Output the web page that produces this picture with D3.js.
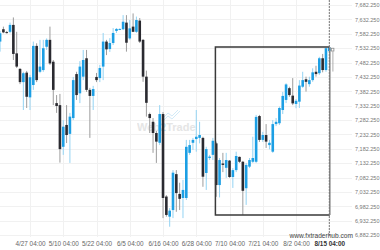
<!DOCTYPE html>
<html><head><meta charset="utf-8">
<script src="https://cdn.jsdelivr.net/npm/d3@7"></script>
<style>html,body{margin:0;padding:0;background:#fff;} svg{display:block;font-family:"Liberation Sans","DejaVu Sans",sans-serif;}</style>
</head><body><svg id="c" width="380" height="250"></svg>
<script>
// ---- data ----
const open = [7555,7598,7588,7589,7613,7514,7460,7414,7447,7361,7404,7540,7450,7456,7537,7561,7485,7341,7334,7189,
7265,7234,7289,7442,7375,7433,7497,7387,7366,7432,7428,7468,7555,7529,7550,7592,7597,7598,7621,7566,
7607,7589,7628,7561,7433,7303,7276,7237,7203,7303,7016,6946,6969,7094,7025,7011,7011,7168,7203,7216,
7220,7220,7098,7150,7161,7201,7056,7131,7116,7141,7084,7108,7154,7137,7045,7120,7137,7137,7296,7213,
7230,7195,7172,7268,7271,7317,7352,7393,7367,7338,7346,7398,7424,7407,7421,7450,7445,7497,7456,7522];
const high = [7592,7607,7592,7621,7639,7589,7463,7450,7453,7439,7555,7549,7561,7561,7566,7607,7491,7369,7373,7282,
7334,7307,7432,7450,7487,7526,7526,7394,7401,7446,7474,7585,7561,7567,7602,7602,7601,7647,7647,7630,
7653,7642,7637,7564,7454,7308,7289,7244,7334,7310,7021,6976,7108,7108,7064,7074,7213,7213,7220,7317,
7276,7224,7189,7161,7220,7207,7150,7168,7168,7143,7115,7172,7155,7140,7133,7150,7224,7300,7300,7241,
7268,7213,7282,7289,7329,7380,7410,7398,7428,7355,7421,7450,7433,7433,7462,7471,7502,7512,7534,7536];
const low = [7520,7584,7583,7584,7491,7463,7407,7317,7324,7317,7387,7414,7445,7450,7526,7474,7334,7307,7134,7161,
7202,7133,7282,7352,7341,7421,7380,7220,7317,7414,7414,7421,7508,7519,7543,7585,7595,7595,7520,7561,
7588,7585,7550,7415,7294,7237,7168,7133,7195,6941,6946,6911,6941,6963,6969,6941,7004,7161,7178,7172,
7201,7050,7039,7143,7143,7015,7013,7101,7081,7081,7046,7101,7133,6952,6987,7115,7133,7133,7206,7206,
7185,7180,7168,7261,7265,7303,7341,7363,7334,7323,7324,7394,7381,7398,7415,7433,7439,7448,7450,7519];
const close = [7584,7587,7586,7613,7512,7468,7414,7445,7363,7431,7540,7421,7468,7532,7561,7479,7387,7331,7181,7259,
7230,7294,7421,7369,7468,7491,7387,7366,7390,7421,7463,7555,7528,7550,7585,7599,7599,7624,7551,7601,
7589,7630,7555,7433,7342,7289,7237,7207,7303,7011,6952,6967,7099,7028,7008,7039,7189,7195,7213,7224,
7230,7085,7181,7155,7210,7056,7143,7126,7143,7084,7108,7157,7137,7036,7126,7143,7150,7293,7213,7230,
7207,7203,7268,7276,7324,7366,7406,7369,7340,7349,7402,7421,7415,7421,7448,7442,7497,7456,7532,7535];
const tickIndex = [9,19,29,39,49,59,69,79,89,99];
const tickLabels = ["4/27 04:00","5/10 04:00","5/22 04:00","6/5 04:00","6/16 04:00","6/28 04:00","7/10 04:00","7/21 04:00","8/2 04:00","8/15 04:00"];
const yTicks = d3.range(17).map(k => 6882.25 + 50*k);
const boxStart = 65, boxEnd = 99;

// ---- drawing ----
const svg = d3.select("#c");
const x = d3.scaleLinear().domain([0, 99]).range([0.07, 329.3]);
const y = d3.scaleLinear().domain([6882.25, 7682.25]).range([235, 5]);
const step = x(1) - x(0);
const bodyW = 2.6;
const plotBottom = 237;

// grid
svg.append("g").selectAll("line").data(yTicks).join("line")
  .attr("x1", 0).attr("x2", 352).attr("y1", d => Math.round(y(d)) + 0.5).attr("y2", d => Math.round(y(d)) + 0.5)
  .attr("stroke", "#f1f1f1").attr("stroke-width", 1);
svg.append("g").selectAll("line").data(tickIndex).join("line")
  .attr("x1", d => Math.round(x(d)) + 0.5).attr("x2", d => Math.round(x(d)) + 0.5)
  .attr("y1", 0).attr("y2", plotBottom)
  .attr("stroke", "#f1f1f1").attr("stroke-width", 1);

// watermark
const wm = svg.append("g").attr("opacity", 0.9);
const wt = wm.append("text").attr("x", 137).attr("y", 131).attr("font-size", 11).attr("font-weight", "bold").attr("fill", "#e3e3e3");
wt.append("tspan").text("Web");
wt.append("tspan").attr("fill", "#c4e5f6").text("2");
wt.append("tspan").text("Trade");
wm.append("path").attr("d", "M163,118 L168,113 L172,116 L178,110").attr("fill", "none").attr("stroke", "#cfe9f7").attr("stroke-width", 1);
wm.append("path").attr("d", "M163,121 L168,116 L172,119 L180,111").attr("fill", "none").attr("stroke", "#cfe9f7").attr("stroke-width", 1);

// candles
const idx = d3.range(open.length);
const isUp = i => close[i] >= open[i];
svg.append("g").selectAll("line").data(idx).join("line")
  .attr("x1", i => x(i)).attr("x2", i => x(i))
  .attr("y1", i => y(high[i])).attr("y2", i => y(low[i]))
  .attr("stroke", i => isUp(i) ? "#93d3f3" : "#9c9c9c").attr("stroke-width", 1);
svg.append("g").selectAll("rect").data(idx).join("rect")
  .attr("x", i => x(i) - bodyW / 2).attr("width", bodyW)
  .attr("y", i => y(Math.max(open[i], close[i])))
  .attr("height", i => Math.max(1, Math.abs(y(open[i]) - y(close[i]))))
  .attr("fill", i => isUp(i) ? "#1c9fe4" : "#2a2a30");

// box
const bh = d3.max(high.slice(boxStart, boxEnd + 1));
const bl = d3.min(low.slice(boxStart, boxEnd + 1));
const bx0 = x(boxStart) - step * 0.25, bx1 = x(boxEnd) + 0.5;
svg.append("path")
  .attr("d", `M${bx1},${y(bh)} L${bx0},${y(bh)} L${bx0},${y(bl)} L${bx1},${y(bl)}`)
  .attr("fill", "none").attr("stroke", "#3a3a3a").attr("stroke-width", 1.5);
svg.append("line").attr("x1", bx1).attr("x2", bx1).attr("y1", y(bh)).attr("y2", y(bl))
  .attr("stroke", "#8a8a8a").attr("stroke-width", 1.6);
// current time dashed line
svg.append("line").attr("x1", x(99)).attr("x2", x(99)).attr("y1", 0).attr("y2", plotBottom)
  .attr("stroke", "#777").attr("stroke-width", 1).attr("stroke-dasharray", "2,1");
// marker
svg.append("rect").attr("x", x(99) + 2).attr("y", y(high[99]) + 1.2).attr("width", 2.6).attr("height", 2.8)
  .attr("fill", "#fff").attr("stroke", "#888").attr("stroke-width", 0.8);
svg.append("line").attr("x1", x(99) + 3.6).attr("x2", x(99) + 3.6).attr("y1", y(high[99]) + 4.5).attr("y2", y(high[99]) + 24.5)
  .attr("stroke", "#999").attr("stroke-width", 0.8);

// axes
const yAxis = svg.append("g").attr("transform", "translate(355,0)")
  .call(d3.axisRight(y).tickValues(yTicks).tickFormat(d3.format(",.3f")).tickSize(0).tickPadding(0));
yAxis.select(".domain").remove();
yAxis.selectAll("text").attr("font-size", 5.5).attr("fill", "#777").attr("font-family", "Liberation Sans, DejaVu Sans, sans-serif");

const xAxis = svg.append("g").attr("transform", `translate(0,${plotBottom})`)
  .call(d3.axisBottom(x).tickValues(tickIndex).tickFormat((d, i) => tickLabels[i]).tickSize(0).tickPadding(4));
xAxis.select(".domain").remove();
xAxis.selectAll("text").attr("font-size", 6.4).attr("fill", "#666").attr("font-family", "Liberation Sans, DejaVu Sans, sans-serif");
xAxis.selectAll("text").filter((d, i) => i === tickIndex.length - 1).attr("font-weight", "bold").attr("fill", "#333");

// site credit
svg.append("text").attr("x", 353).attr("y", 238).attr("text-anchor", "end")
  .attr("font-size", 6.6).attr("fill", "#444").text("www.fxtraderhub.com");
</script></body></html>
